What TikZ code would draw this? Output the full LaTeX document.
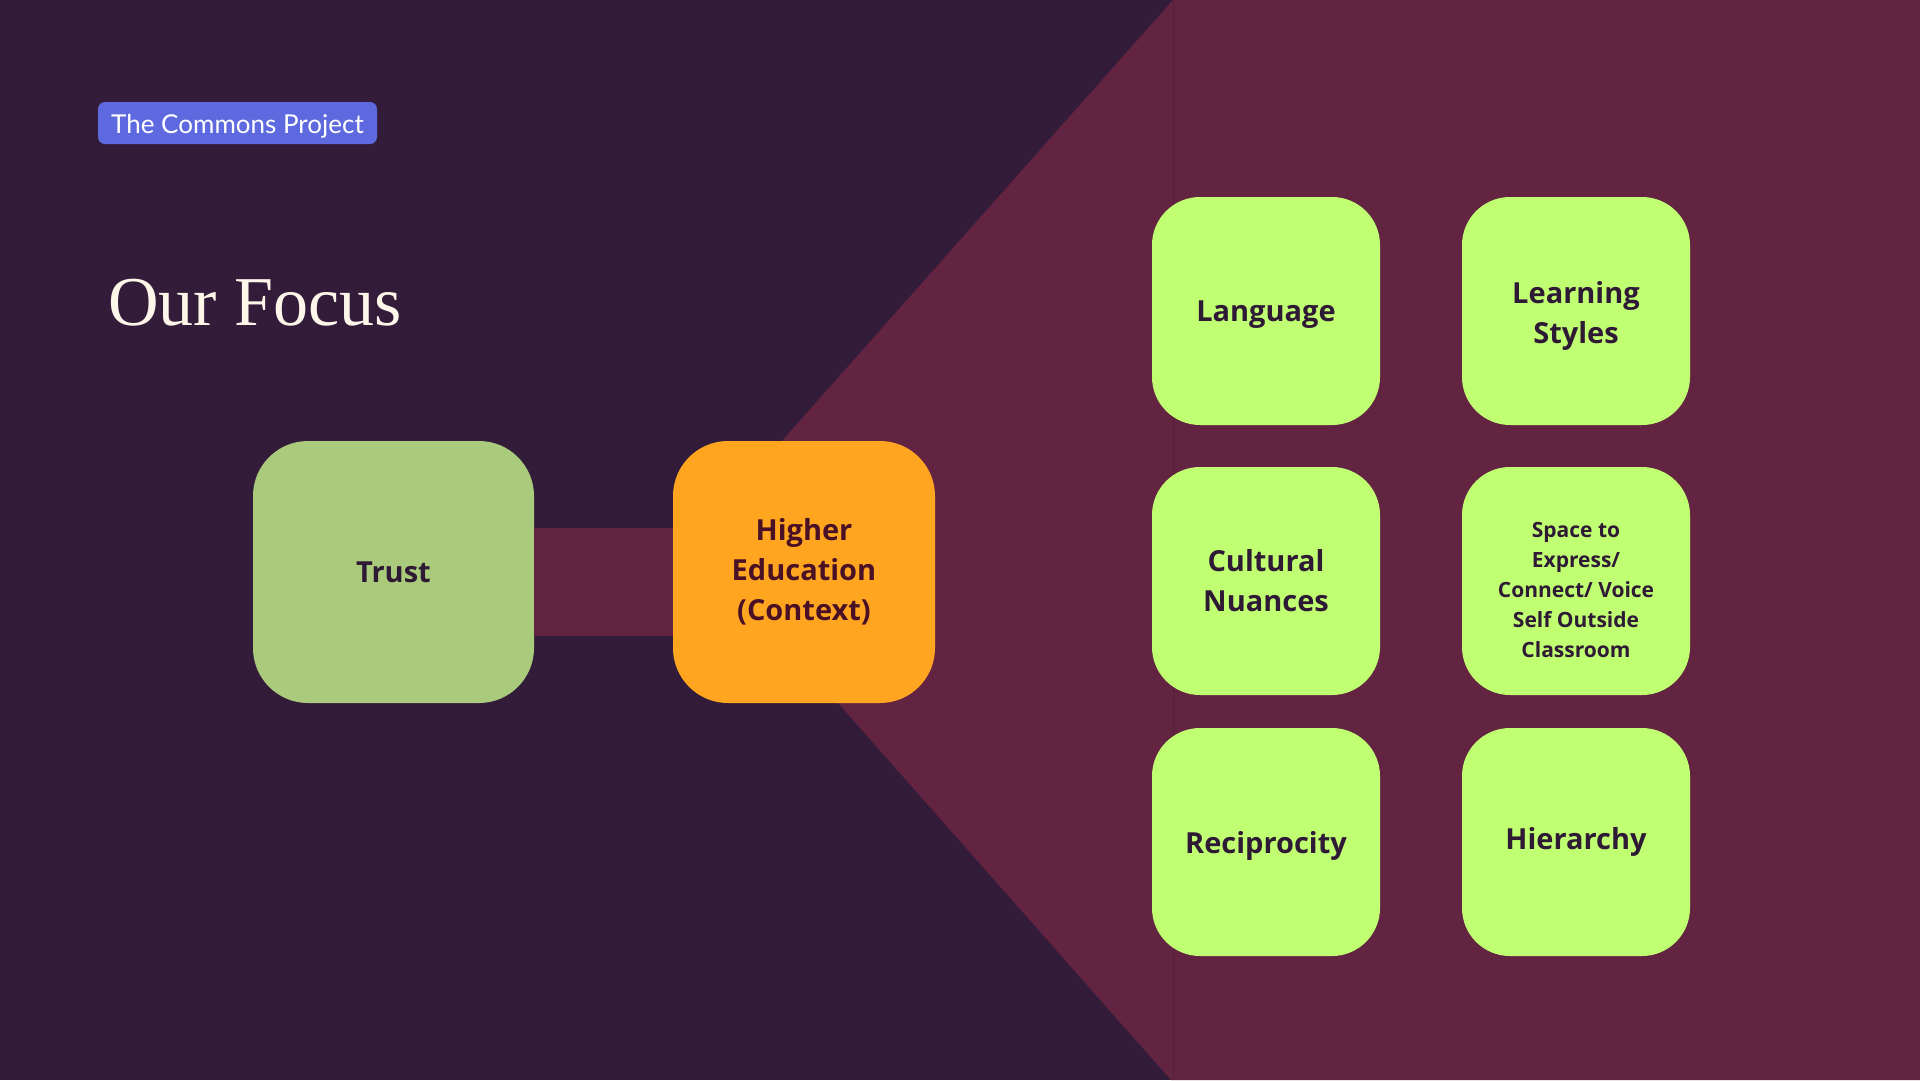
\documentclass[tikz,border=0pt]{standalone}
\usepackage{fontspec}
\setsansfont{Lato}
\newfontfamily\tilefont{Open Sans}
\newfontfamily\titlefont{Liberation Serif}
\usetikzlibrary{positioning}

\definecolor{bgdark}{HTML}{331C3A}
\definecolor{bandplum}{HTML}{632441}
\definecolor{seamplum}{HTML}{55203A}
\definecolor{pillblue}{HTML}{5E69DF}
\definecolor{titlecream}{HTML}{FFF6EA}
\definecolor{trustgreen}{HTML}{AACB7B}
\definecolor{ctxorange}{HTML}{FFA51F}
\definecolor{limetile}{HTML}{C1FF72}
\definecolor{inkdark}{HTML}{2F1A35}
\definecolor{inkmaroon}{HTML}{4A1126}

\tikzset{
  bigbox/.style={rounded corners=55pt, inner sep=0pt, align=center,
    font=\tilefont\bfseries\fontsize{29}{40}\selectfont},
  tile/.style={rounded corners=48pt, fill=limetile, text=inkdark,
    minimum width=228pt, minimum height=228pt, inner sep=0pt, align=center,
    font=\tilefont\bfseries\fontsize{29}{40}\selectfont},
  smalltile/.style={tile, font=\tilefont\bfseries\fontsize{21}{30}\selectfont}
}

\begin{document}
\begin{tikzpicture}[x=1pt, y=-1pt]

% === Background ===
\fill[bgdark] (0,0) rectangle (1920,1080);
\useasboundingbox (0,0) rectangle (1920,1080);
\fill[bandplum] (1173,0) -- (694,540) -- (1171,1080) -- (1920,1080) -- (1920,0) -- cycle;
\draw[seamplum, line width=1pt] (1173,0) -- (1173,1080);

% === Header ===
\node[fill=pillblue, text=white, rounded corners=7pt, minimum width=279pt,
  minimum height=42pt, inner sep=0pt, text depth=0pt,
  font=\sffamily\fontsize{26}{30}\selectfont]
  (tag) at (237.5,123) {\raisebox{-2pt}{The Commons Project}};
\node[anchor=base west, inner sep=0pt, text=titlecream,
  font=\titlefont\fontsize{70}{74}\selectfont] (title) at (108,325) {Our Focus};

% === Trust and context ===
\node[bigbox, fill=trustgreen, text=inkdark, minimum width=281pt, minimum height=262pt]
  (trust) at (393.5,572) {Trust};
\node[bigbox, fill=ctxorange, text=inkmaroon, minimum width=262pt, minimum height=262pt]
  (higher) at (804,572) {Higher\\Education\\(Context)};
\draw[bandplum, line width=108pt] ([yshift=-10pt]trust.east) -- ([yshift=-10pt]higher.west);

% === Focus tiles ===
\node[tile] (language) at (1266,311) {\parbox{200pt}{\centering\vspace*{8pt}Language}};
\node[tile] (learning) at (1576,311) {\parbox{200pt}{\centering\vspace*{10pt}Learning\\Styles}};
\node[tile] (cultural) at (1266,581) {Cultural\\Nuances};
\node[smalltile] (space) at (1576,581) {\parbox{200pt}{\centering\vspace*{18pt}Space to\\Express/\\Connect/ Voice\\Self Outside\\Classroom}};
\node[tile] (reciprocity) at (1266,842) {\parbox{200pt}{\centering\vspace*{8pt}Reciprocity}};
\node[tile] (hierarchy) at (1576,842) {Hierarchy};

\end{tikzpicture}
\end{document}
